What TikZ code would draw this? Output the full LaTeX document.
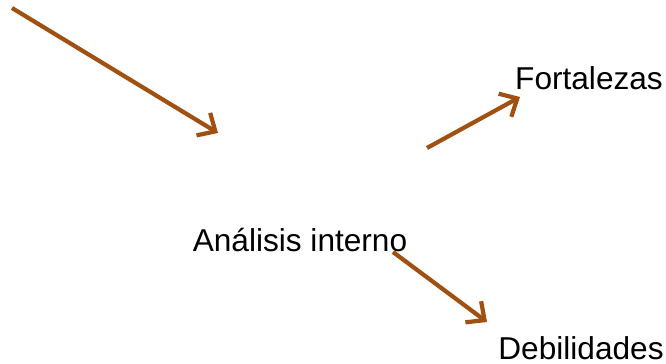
\documentclass[tikz,border=0pt]{standalone}
\usepackage{fontspec}
\setmainfont{Liberation Sans}
\usetikzlibrary{arrows.meta}
\definecolor{flecha}{RGB}{160,80,16}
\tikzset{
  rotulo/.style={font=\fontsize{18}{21}\selectfont, inner sep=0pt},
  flechita/.style={draw=flecha, line width=2.4pt, -{Straight Barb[length=8pt, width=15pt, line width=2.4pt]}}
}
\begin{document}
\begin{tikzpicture}[x=0.02cm, y=-0.02cm]
  \useasboundingbox (0,0) rectangle (666,364);
  \node[rotulo] (analisis) at (300,240) {Análisis interno};
  \node[rotulo] (fortalezas) at (589,78) {Fortalezas};
  \node[rotulo] (debilidades) at (581,348) {Debilidades};
  \coordinate (inicio) at (12,8);
  \coordinate (llegada) at (218,133);
  \coordinate (salidaF) at (427,148);
  \coordinate (puntaF) at (520,97);
  \coordinate (salidaD) at (393,252);
  \coordinate (puntaD) at (487,322);
  \draw[flechita] (inicio) -- (llegada);
  \draw[flechita] (salidaF) -- (puntaF);
  \draw[flechita] (salidaD) -- (puntaD);
\end{tikzpicture}
\end{document}
